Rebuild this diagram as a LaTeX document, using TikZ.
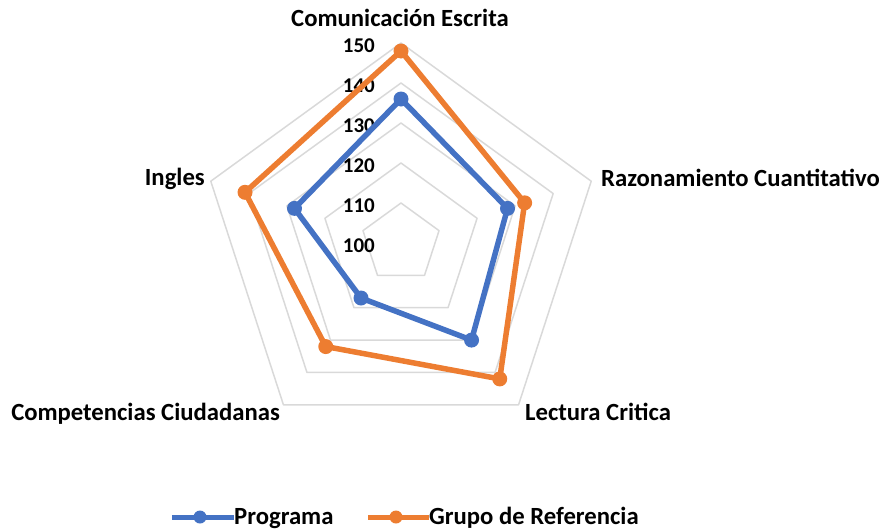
\documentclass[tikz,border=0pt]{standalone}
\usepackage{fontspec}
\setmainfont{Carlito}
\usepackage{tikz}
\usetikzlibrary{positioning}
\definecolor{gridgray}{RGB}{217,217,217}
\definecolor{progblue}{RGB}{68,114,196}
\definecolor{reforange}{RGB}{237,125,49}
\tikzset{
	ring/.style={draw=gridgray,line width=1.5pt,line join=round},
	serie/.style={line width=5.5pt,line join=round},
	dot/.style={circle,inner sep=0pt,minimum size=15pt},
	catlab/.style={inner sep=0pt,font=\bfseries\fontsize{24.7}{28}\selectfont},
	ticklab/.style={inner sep=0pt,font=\bfseries\fontsize{21}{25}\selectfont}
}
\begin{document}
\begin{tikzpicture}[x=1pt,y=1pt]
	\useasboundingbox (-401,-288) rectangle (481,243);
\foreach \k in {1, ..., 5}
	\draw[ring] (90:\k*40) -- (18:\k*40) -- (-54:\k*40) -- (-126:\k*40) -- (162:\k*40) -- cycle;
\foreach \v in {100, 110, ..., 150}
	\node[ticklab,anchor=base east] (t\v) at (-26,{4*(\v-100)-9}) {\v};
	\node[catlab,anchor=base] (ce) at (-1,217) {Comunicación Escrita};
	\node[catlab,anchor=base west] (rc) at (200,57) {Razonamiento Cuantitativo};
	\node[catlab,anchor=base west] (lc) at (124,-177) {Lectura Critica};
	\node[catlab,anchor=base east] (cc) at (-121,-177) {Competencias Ciudadanas};
	\node[catlab,anchor=base east] (in) at (-196,58) {Ingles};
\foreach \v [count=\i] in {136, 128, 130, 117, 128}
	\coordinate (p\i) at ({162-72*\i}:{4*(\v-100)});
\foreach \v [count=\i] in {148, 132.5, 142, 132, 141}
	\coordinate (g\i) at ({162-72*\i}:{4*(\v-100)});
	\draw[serie,progblue] (p1) -- (p2) -- (p3) -- (p4) -- (p5) -- cycle;
\foreach \i in {1, ..., 5}
	\node[dot,fill=progblue] (pd\i) at (p\i) {};
	\draw[serie,reforange] (g1) -- (g2) -- (g3) -- (g4) -- (g5) -- cycle;
\foreach \i in {1, ..., 5}
	\node[dot,fill=reforange] (gd\i) at (g\i) {};
	\node[catlab,anchor=base west] (legp) at (-167,-281) {Programa};
	\node[catlab,anchor=base west] (legg) at (28,-281) {Grupo de Referencia};
	\coordinate (lp) at (-229,-274);
	\coordinate (lg) at (-33,-274);
	\draw[serie,progblue,line width=5pt] (lp) -- (lp -| legp.west);
	\draw[serie,reforange,line width=5pt] (lg) -- (lg -| legg.west);
	\node[dot,fill=progblue,minimum size=13pt] (lpd) at (-201,-274) {};
	\node[dot,fill=reforange,minimum size=13pt] (lgd) at (-5,-274) {};
\end{tikzpicture}
\end{document}
